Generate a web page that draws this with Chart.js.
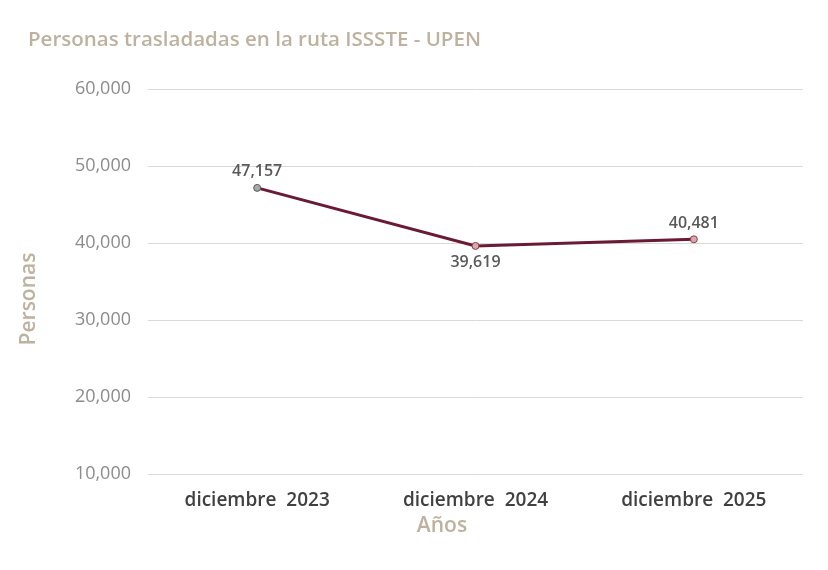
<!DOCTYPE html>
<html>
<head>
<meta charset="utf-8">
<script src="https://cdn.jsdelivr.net/npm/chart.js@4/dist/chart.umd.min.js"></script>
<style>
  html, body { margin: 0; padding: 0; background: #ffffff; }
  #wrap { width: 828px; height: 570px; position: relative; }
</style>
</head>
<body>
<div id="wrap"><canvas id="chart"></canvas></div>
<script>
// Chart data
const categories = ["diciembre  2023", "diciembre  2024", "diciembre  2025"]
const personas = [47157, 39619, 40481]
const labelSide = ["above", "below", "above"]
const yTicks = [10000, 20000, 30000, 40000, 50000, 60000]

const chartTitle = "Personas trasladadas en la ruta ISSSTE - UPEN"
const xTitle = "Años"
const yTitle = "Personas"

const BEIGE = "#bfb19f"
const FONT = "'Open Sans', sans-serif"

const fmt = (v) => v.toLocaleString("en-US")

// Draws the title, axis titles and value labels
const textPlugin = {
  id: "textPlugin",
  afterDatasetsDraw(chart) {
    const ctx = chart.ctx
    ctx.save()

    // Chart title
    ctx.fillStyle = BEIGE
    ctx.font = "600 20.5px " + FONT
    ctx.textAlign = "left"
    ctx.textBaseline = "middle"
    ctx.fillText(chartTitle, 28, 40)

    // Axis titles
    ctx.font = "600 21px " + FONT
    ctx.textAlign = "center"
    ctx.fillText(xTitle, 442, 526)
    ctx.save()
    ctx.translate(29, 299)
    ctx.rotate(-Math.PI / 2)
    ctx.fillText(yTitle, 0, 0)
    ctx.restore()

    // Value labels
    const meta = chart.getDatasetMeta(0)
    ctx.fillStyle = "#595959"
    ctx.font = "600 16px " + FONT
    meta.data.forEach((pt, i) => {
      const dy = labelSide[i] === "below" ? 17 : -16
      ctx.fillText(fmt(personas[i]), pt.x, pt.y + dy)
    })
    ctx.restore()
  },
}

new Chart(document.getElementById("chart"), {
  type: "line",
  data: {
    labels: categories,
    datasets: [
      {
        data: personas,
        borderColor: "#6b1a35",
        borderWidth: 3,
        tension: 0,
        pointRadius: 3.5,
        pointBorderWidth: 1,
        pointBackgroundColor: ["#a3aaaa", "#d9a9a9", "#d9a9a9"],
        pointBorderColor: ["#5a5a5a", "#8c3a4c", "#8c3a4c"],
      },
    ],
  },
  options: {
    responsive: true,
    maintainAspectRatio: false,
    animation: false,
    layout: { padding: { top: 89, right: 25, bottom: 0, left: 0 } },
    plugins: {
      legend: { display: false },
      tooltip: { enabled: false },
    },
    scales: {
      x: {
        offset: true,
        grid: { display: false },
        border: { display: false },
        ticks: {
          color: "#404040",
          font: { family: FONT, size: 19, weight: "600" },
          padding: 7,
        },
        afterFit(scale) {
          scale.height = 96
        },
      },
      y: {
        min: 10000,
        max: 60000,
        afterBuildTicks(scale) {
          scale.ticks = yTicks.map((v) => ({ value: v }))
        },
        grid: { color: "#d9d9d9", lineWidth: 1, drawTicks: false },
        border: { display: false },
        ticks: {
          color: "#8c8c8c",
          font: { family: FONT, size: 18 },
          padding: 17,
          callback: (v) => fmt(v),
        },
        afterFit(scale) {
          scale.width = 148
        },
      },
    },
  },
  plugins: [textPlugin],
})
</script>
</body>
</html>
